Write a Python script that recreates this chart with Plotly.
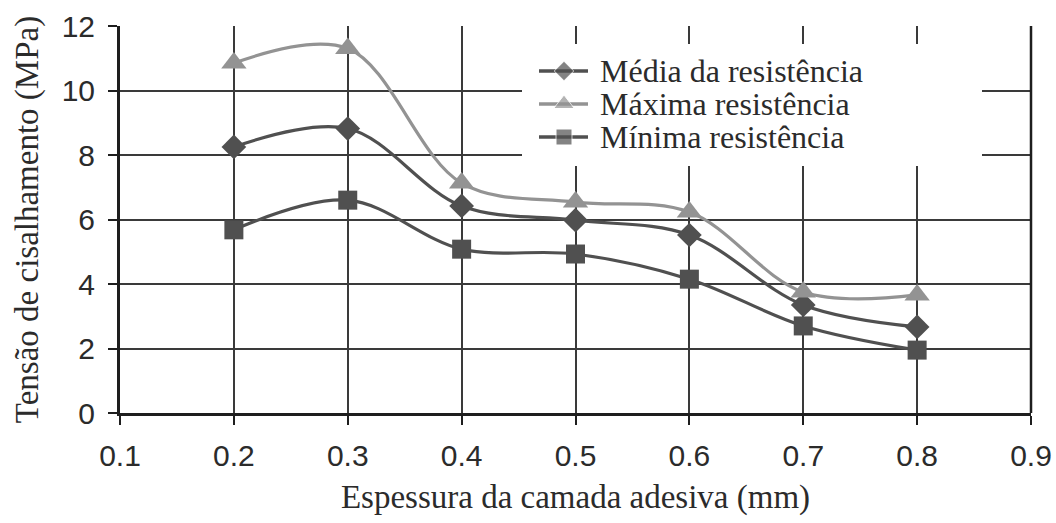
import plotly.graph_objects as go

# Data
espessura = [0.2, 0.3, 0.4, 0.5, 0.6, 0.7, 0.8]
media = [8.25, 8.82, 6.42, 5.98, 5.52, 3.35, 2.67]
maxima = [10.85, 11.3, 7.13, 6.54, 6.23, 3.75, 3.66]
minima = [5.68, 6.6, 5.08, 4.93, 4.15, 2.7, 1.95]
series_names = ["Média da resistência", "Máxima resistência", "Mínima resistência"]
x_ticks = [0.1, 0.2, 0.3, 0.4, 0.5, 0.6, 0.7, 0.8, 0.9]
y_ticks = [0, 2, 4, 6, 8, 10, 12]

DARK = "#505050"
LIGHT = "#939393"
TXT = "#2b2b2b"
GRID = "#3a3a3a"

styles = [
    dict(color=DARK, symbol="diamond", size=19, leg=15),
    dict(color=LIGHT, symbol="triangle-up", size=22, leg=18),
    dict(color=DARK, symbol="square", size=19, leg=16),
]

fig = go.Figure()
for name, ys, st in zip(series_names, [media, maxima, minima], styles):
    fig.add_trace(go.Scatter(
        x=espessura, y=ys, name=name, mode="lines+markers",
        line=dict(color=st["color"], width=3.2, shape="spline", smoothing=1.0),
        marker=dict(symbol=st["symbol"], size=st["size"], color=st["color"]),
        showlegend=False, cliponaxis=False,
    ))

# Manual legend drawn on an overlay axis expressed in pixel units of the plot area
L, R, T, B = 120, 1031, 26, 413
leg_rows = [71, 104, 137]
for name, st, yy in zip(series_names, styles, leg_rows):
    fig.add_trace(go.Scatter(
        x=[539, 564, 588], y=[yy, yy, yy], xaxis="x2", yaxis="y2",
        mode="lines+markers", showlegend=False, hoverinfo="skip",
        line=dict(color=st["color"], width=3.5),
        marker=dict(symbol=st["symbol"], size=[0, st["leg"], 0], color=st["color"]),
    ))
    fig.add_annotation(x=598, y=yy, xref="x2", yref="y2", text=name, showarrow=False,
                       xanchor="left", yanchor="middle",
                       font=dict(family="Liberation Serif, serif", size=32, color=TXT))

def px2x(p):
    return 0.1 + (p - L) / (R - L) * 0.8

def px2y(p):
    return 12 - (p - T) / (B - T) * 12

fig.add_shape(type="rect", xref="x", yref="y", x0=px2x(522), x1=px2x(982),
              y0=px2y(166), y1=px2y(44),
              fillcolor="white", line=dict(width=0), layer="between")

fig.update_layout(
    width=1056, height=523,
    margin=dict(l=L, r=1056 - R, t=T, b=523 - B),
    paper_bgcolor="white", plot_bgcolor="white",
    xaxis=dict(
        range=[0.1, 0.9], tickvals=x_ticks, ticktext=[f"{v:.1f}" for v in x_ticks],
        showgrid=True, gridcolor=GRID, gridwidth=1.6,
        showline=True, linecolor="#1e1e1e", linewidth=3, mirror=False,
        ticks="outside", ticklen=9, tickwidth=2, tickcolor="#1e1e1e",
        tickfont=dict(family="Liberation Sans, Arial, sans-serif", size=30, color=TXT),
        ticklabelstandoff=5, automargin=False,
        title=dict(text="Espessura da camada adesiva (mm)", standoff=14,
                   font=dict(family="Liberation Serif, serif", size=33, color=TXT)),
        zeroline=False,
    ),
    yaxis=dict(
        range=[0, 12], tickvals=y_ticks,
        showgrid=True, gridcolor=GRID, gridwidth=1.6,
        showline=True, linecolor="#1e1e1e", linewidth=3,
        ticks="outside", ticklen=9, tickwidth=2, tickcolor="#1e1e1e",
        tickfont=dict(family="Liberation Sans, Arial, sans-serif", size=30, color=TXT),
        ticklabelstandoff=7, automargin=False,
        title=dict(text="Tensão de cisalhamento (MPa)", standoff=14,
                   font=dict(family="Liberation Serif, serif", size=33, color=TXT)),
        zeroline=False,
    ),
    xaxis2=dict(range=[L, R], overlaying="x", visible=False, fixedrange=True),
    yaxis2=dict(range=[B, T], overlaying="y", visible=False, fixedrange=True),
    shapes=[
        dict(type="line", xref="paper", yref="paper", x0=0, x1=1, y0=1, y1=1,
             line=dict(color="#1e1e1e", width=2.5), layer="above"),
        dict(type="line", xref="paper", yref="paper", x0=1, x1=1, y0=0, y1=1,
             line=dict(color="#1e1e1e", width=2.5), layer="above"),
    ],
)

fig.write_html("out.html")
